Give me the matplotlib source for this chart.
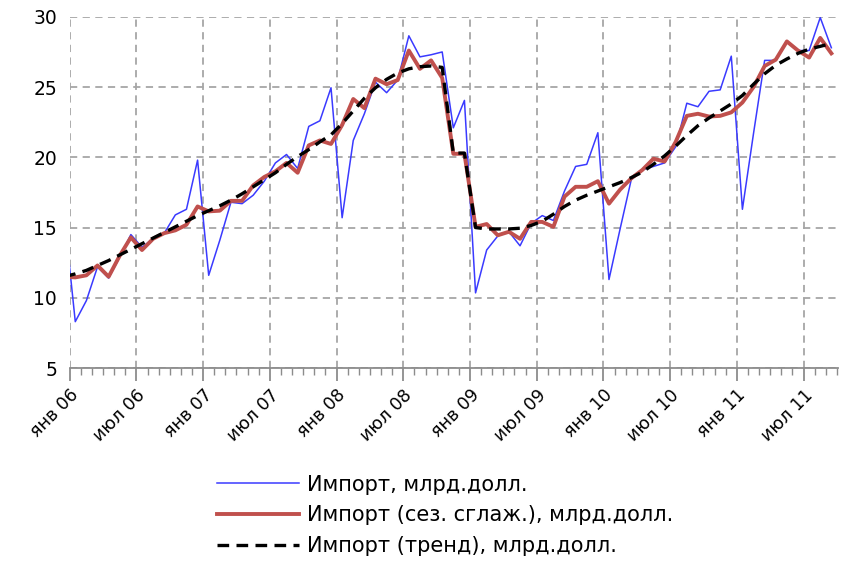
import matplotlib
matplotlib.use('Agg')
import matplotlib.pyplot as plt
import numpy as np

plt.rcParams['font.family'] = ['DejaVu Sans']

# monthly values, Dec 2005 .. Sep 2011
imports = [15.9,
           8.3, 9.8, 12.2, 11.4, 12.9, 14.5, 13.6, 14.2, 14.6, 15.9, 16.3, 19.8,
           11.6, 14.1, 16.8, 16.7, 17.3, 18.3, 19.6, 20.2, 19.2, 22.2, 22.6, 24.95,
           15.7, 21.2, 23.1, 25.35, 24.6, 25.5, 28.65, 27.15, 27.3, 27.5, 22.1, 24.05,
           10.35, 13.4, 14.4, 14.7, 13.7, 15.3, 15.85, 15.5, 17.6, 19.35, 19.5, 21.75,
           11.3, 14.9, 18.4, 19.1, 19.35, 19.6, 20.75, 23.85, 23.6, 24.7, 24.8, 27.2,
           16.3, 21.7, 26.9, 26.9, 28.2, 27.6, 27.6, 29.95, 27.8]

imports_sa = [11.5,
              11.45, 11.6, 12.3, 11.5, 13.0, 14.3, 13.4, 14.2, 14.6, 14.8, 15.2, 16.5,
              16.15, 16.2, 16.9, 16.9, 18.0, 18.6, 19.0, 19.6, 18.9, 20.85, 21.2, 20.95,
              22.3, 24.15, 23.5, 25.6, 25.2, 25.5, 27.6, 26.3, 26.9, 25.65, 20.25, 20.25,
              15.05, 15.25, 14.45, 14.7, 14.2, 15.4, 15.4, 15.05, 17.2, 17.9, 17.9, 18.3,
              16.7, 17.7, 18.5, 19.1, 19.9, 19.7, 21.1, 22.95, 23.1, 22.9, 22.95, 23.2,
              23.9, 25.0, 26.5, 26.95, 28.25, 27.6, 27.1, 28.5, 27.4]

imports_trend = [11.5,
                 11.7, 11.95, 12.3, 12.65, 13.05, 13.45, 13.85, 14.25, 14.65, 15.05, 15.45, 15.85,
                 16.2, 16.55, 16.95, 17.4, 17.9, 18.4, 18.9, 19.5, 20.05, 20.55, 21.1, 21.6,
                 22.4, 23.3, 24.2, 24.95, 25.55, 26.0, 26.3, 26.45, 26.5, 26.4, 20.3, 20.3,
                 15.0, 14.9, 14.9, 14.9, 14.95, 15.15, 15.45, 15.95, 16.5, 16.95, 17.3, 17.6,
                 17.9, 18.2, 18.55, 18.95, 19.5, 20.1, 20.8, 21.55, 22.25, 22.8, 23.3, 23.8,
                 24.4, 25.2, 25.95, 26.55, 27.0, 27.4, 27.7, 27.9, 28.1]

tick_labels = ['янв 06', 'июл 06', 'янв 07', 'июл 07', 'янв 08', 'июл 08',
               'янв 09', 'июл 09', 'янв 10', 'июл 10', 'янв 11', 'июл 11']

# x in months from 1 Jan 2006, points at mid-month
x = np.arange(len(imports)) - 0.5

fig = plt.figure(figsize=(8.43, 5.61), dpi=100)
ax = fig.add_axes([0.0827, 0.344, 0.9114, 0.626])

ax.plot(x, imports, color='#3a3aff', lw=1.1, label='Импорт, млрд.долл.', zorder=3)
ax.plot(x, imports_sa, color='#c0504d', lw=2.8, label='Импорт (сез. сглаж.), млрд.долл.', zorder=4)
ax.plot(x, imports_trend, color='black', lw=2.4, ls=(0, (3.5, 2.2)),
        label='Импорт (тренд), млрд.долл.', zorder=5)

ax.set_xlim(0, 69.1)
ax.set_ylim(5, 30)
ax.set_yticks(range(5, 31, 5))
ax.set_xticks(np.arange(0, 67, 6))
ax.set_xticks(np.arange(0, 70, 1), minor=True)
ax.set_xticklabels(tick_labels, rotation=45, ha='right', rotation_mode='anchor', fontsize=12.5)

ax.grid(True, which='major', color='#a6a6a6', ls=(0, (4, 3)), lw=1.3)
for s in ['left', 'right', 'top']:
    ax.spines[s].set_visible(False)
ax.spines['bottom'].set_color('#8c8c8c')
ax.spines['bottom'].set_linewidth(1.3)
ax.tick_params(axis='y', length=0, labelsize=13.5, pad=9, labelcolor='black')
ax.tick_params(axis='x', which='major', length=9, width=1.3, color='#8c8c8c', pad=4)
ax.tick_params(axis='x', which='minor', length=5, width=1.0, color='#8c8c8c')

fig.legend(loc='upper left', bbox_to_anchor=(0.248, 0.169), frameon=False, fontsize=15,
           handlelength=3.9, handletextpad=0.4, labelspacing=0.52, borderaxespad=0)

fig.savefig('out.png', dpi=100)
